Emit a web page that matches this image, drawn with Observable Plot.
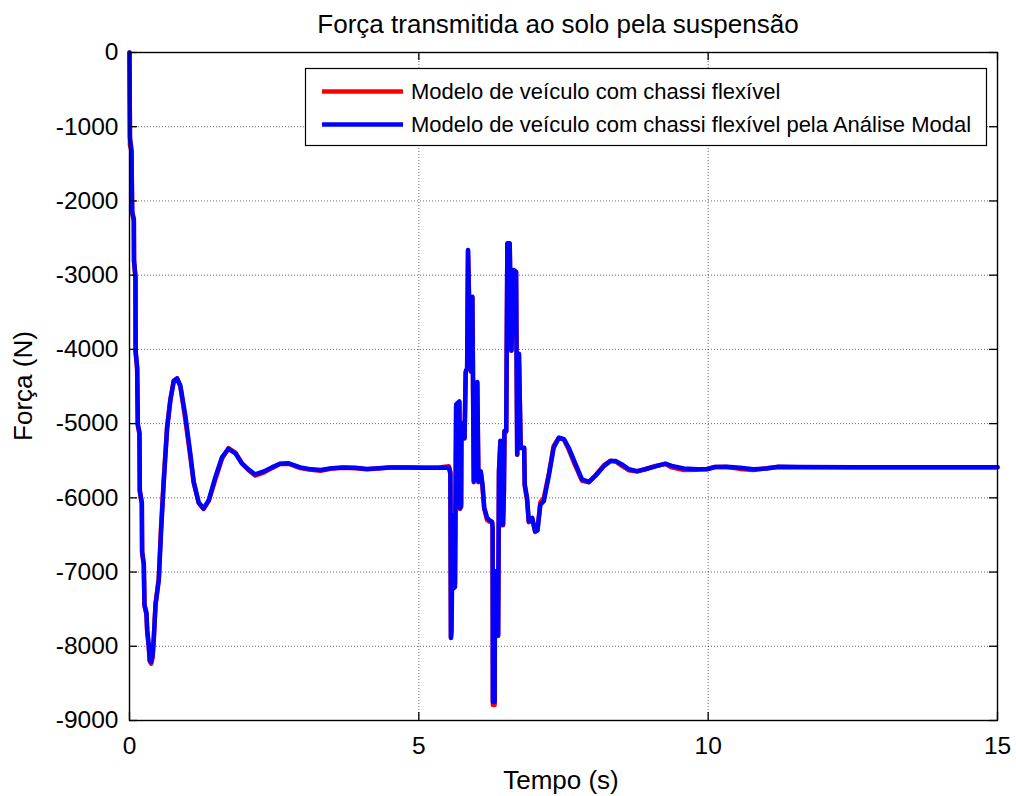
<!DOCTYPE html>
<html>
<head>
<meta charset="utf-8">
<script src="https://cdn.jsdelivr.net/npm/d3@7"></script>
<script src="https://cdn.jsdelivr.net/npm/@observablehq/plot@0.6"></script>
<style>
  body { margin: 0; background: #fff; }
  #wrap { position: relative; width: 1016px; height: 796px; background: #fff; font-family: "Liberation Sans", Arial, Helvetica, sans-serif; }
  #wrap > svg { position: absolute; left: 0; top: 0; }
</style>
</head>
<body>
<div id="wrap"></div>
<script>
const titleText = "Força transmitida ao solo pela suspensão";
const xLabel = "Tempo (s)";
const yLabel = "Força (N)";
const seriesNames = ["Modelo de veículo com chassi flexível", "Modelo de veículo com chassi flexível pela Análise Modal"];
const seriesColors = ["#ff0000", "#0000ff"];
const xTicks = [0, 5, 10, 15];
const yTicks = [0, -1000, -2000, -3000, -4000, -5000, -6000, -7000, -8000, -9000];

const time = [
  0, 0.004, 0.008, 0.034, 0.046, 0.075, 0.078, 0.103, 0.106, 0.132,
  0.144, 0.172, 0.178, 0.213, 0.218, 0.247, 0.259, 0.293, 0.305, 0.333,
  0.350, 0.374, 0.400, 0.420, 0.450, 0.506, 0.546, 0.592, 0.650, 0.707,
  0.764, 0.822, 0.879, 0.966, 1.050, 1.110, 1.195, 1.280, 1.370, 1.480,
  1.600, 1.710, 1.830, 1.940, 2.060, 2.170, 2.320, 2.460, 2.600, 2.750,
  2.950, 3.100, 3.300, 3.500, 3.700, 3.900, 4.100, 4.300, 4.500, 4.800,
  5.100, 5.350, 5.520, 5.545, 5.555, 5.565, 5.585, 5.600, 5.625, 5.645,
  5.700, 5.712, 5.730, 5.737, 5.760, 5.790, 5.810, 5.835, 5.850, 5.870,
  5.895, 5.905, 5.925, 5.950, 5.975, 6.010, 6.030, 6.070, 6.100, 6.130,
  6.180, 6.220, 6.265, 6.275, 6.280, 6.310, 6.316, 6.345, 6.370, 6.385,
  6.410, 6.430, 6.455, 6.470, 6.480, 6.510, 6.530, 6.570, 6.600, 6.640,
  6.680, 6.700, 6.730, 6.760, 6.820, 6.830, 6.870, 6.900, 6.960, 7.010,
  7.050, 7.100, 7.160, 7.250, 7.330, 7.420, 7.510, 7.590, 7.710, 7.820,
  7.940, 8.050, 8.200, 8.310, 8.400, 8.510, 8.630, 8.770, 8.910, 9.090,
  9.260, 9.370, 9.580, 9.810, 9.980, 10.120, 10.320, 10.550, 10.780, 11.010,
  11.210, 11.600, 12.500, 13.500, 15.000
];

const forceFlexible = [
  0, -650, -1250, -1330, -2160, -2270, -2820, -3040, -4040, -4260,
  -5030, -5140, -5920, -6080, -6740, -6910, -7460, -7570, -7790, -8010,
  -8200, -8235, -8150, -7900, -7430, -7080, -6380, -5740, -5040, -4670,
  -4420, -4390, -4500, -4950, -5440, -5800, -6070, -6150, -6040, -5760,
  -5470, -5330, -5390, -5530, -5630, -5700, -5660, -5600, -5545, -5540,
  -5600, -5620, -5635, -5605, -5595, -5600, -5615, -5605, -5590, -5590,
  -5595, -5590, -5575, -5650, -7880, -7500, -6250, -7200, -7150, -4760,
  -4720, -6150, -6100, -5000, -5010, -5180, -4320, -4260, -2670, -3420,
  -4250, -4300, -3300, -5790, -5660, -4450, -5790, -5660, -5850, -6150,
  -6300, -6320, -6330, -6410, -8790, -8790, -7000, -7000, -7860, -5650,
  -5240, -6370, -6370, -5920, -5110, -5110, -2580, -2580, -4020, -2940,
  -2960, -5420, -4070, -5330, -5330, -5840, -6030, -6330, -6290, -6460,
  -6430, -6060, -6000, -5660, -5300, -5190, -5220, -5350, -5580, -5770,
  -5790, -5700, -5560, -5500, -5510, -5570, -5630, -5645, -5615, -5570,
  -5545, -5590, -5625, -5620, -5610, -5585, -5585, -5610, -5625, -5600,
  -5585, -5588, -5588, -5588, -5588
];

const forceModal = [
  0, -600, -1150, -1310, -2140, -2250, -2800, -3020, -4020, -4240,
  -5010, -5120, -5900, -6060, -6720, -6890, -7440, -7550, -7770, -7990,
  -8190, -8215, -8105, -7880, -7440, -7110, -6450, -5785, -5065, -4680,
  -4430, -4390, -4490, -4900, -5400, -5785, -6060, -6145, -6030, -5730,
  -5450, -5340, -5400, -5535, -5620, -5685, -5645, -5590, -5540, -5535,
  -5590, -5610, -5625, -5600, -5590, -5595, -5610, -5600, -5590, -5590,
  -5595, -5595, -5590, -5680, -7890, -7800, -6230, -7220, -7200, -4740,
  -4700, -6140, -6120, -4990, -5000, -5200, -4300, -4250, -2660, -3400,
  -4240, -4300, -3290, -5780, -5650, -4440, -5780, -5640, -5820, -6130,
  -6270, -6300, -6320, -6400, -8750, -8750, -6990, -6990, -7850, -5640,
  -5230, -6360, -6360, -5910, -5100, -5100, -2570, -2570, -4015, -2930,
  -2955, -5415, -4060, -5325, -5325, -5820, -6000, -6315, -6270, -6450,
  -6440, -6090, -6045, -5685, -5325, -5190, -5210, -5325, -5550, -5750,
  -5785, -5705, -5570, -5505, -5505, -5550, -5615, -5640, -5615, -5575,
  -5540, -5570, -5605, -5615, -5615, -5585, -5580, -5595, -5615, -5605,
  -5580, -5585, -5588, -5588, -5588
];

const W = 1016, H = 796;
const mL = 129, mR = 19, mT = 52, mB = 76;
const plotW = W - mL - mR, plotH = H - mT - mB;
const FONT = '"Liberation Sans", Arial, Helvetica, sans-serif';

const dataFlex = time.map((t, i) => ({t, f: forceFlexible[i]}));
const dataModal = time.map((t, i) => ({t, f: forceModal[i]}));

const chart = Plot.plot({
  width: W,
  height: H,
  marginLeft: mL,
  marginRight: mR,
  marginTop: mT,
  marginBottom: mB,
  style: {fontFamily: FONT, fontSize: "24.5px", color: "#000", background: "#fff", overflow: "visible"},
  x: {domain: [0, 15]},
  y: {domain: [-9000, 0]},
  marks: [
    Plot.gridX(xTicks.slice(1, -1), {stroke: "#000", strokeOpacity: 0.6, strokeWidth: 1, strokeDasharray: "1,2"}),
    Plot.gridY(yTicks.slice(1, -1), {stroke: "#000", strokeOpacity: 0.6, strokeWidth: 1, strokeDasharray: "1,2"}),
    Plot.line(dataFlex, {x: "t", y: "f", stroke: seriesColors[0], strokeWidth: 4.5, strokeLinejoin: "round", strokeLinecap: "round"}),
    Plot.line(dataModal, {x: "t", y: "f", stroke: seriesColors[1], strokeWidth: 4.5, strokeLinejoin: "round", strokeLinecap: "round"}),
    Plot.tickY(yTicks, {y: d => d, insetRight: plotW - 8, stroke: "#000", strokeWidth: 1.3}),
    Plot.tickY(yTicks, {y: d => d, insetLeft: plotW - 8, stroke: "#000", strokeWidth: 1.3}),
    Plot.tickX(xTicks, {x: d => d, insetTop: plotH - 8, stroke: "#000", strokeWidth: 1.3}),
    Plot.tickX(xTicks, {x: d => d, insetBottom: plotH - 8, stroke: "#000", strokeWidth: 1.3}),
    Plot.frame({stroke: "#000", strokeWidth: 1.4}),
    Plot.axisY(yTicks, {tickSize: 0, tickPadding: 11, tickFormat: d => String(d), fontSize: 24.5, label: null}),
    Plot.axisX(xTicks, {tickSize: 0, tickPadding: 16, tickFormat: d => String(d), fontSize: 24.5, label: null})
  ]
});

const wrap = document.getElementById("wrap");
wrap.appendChild(chart);

// Overlay: title, axis labels, legend
const ov = d3.select(wrap).append("svg")
  .attr("width", W).attr("height", H)
  .style("pointer-events", "none")
  .style("font-family", FONT);

ov.append("text").attr("x", 558).attr("y", 33).attr("text-anchor", "middle")
  .attr("font-size", 26).attr("fill", "#000").text(titleText);

ov.append("text").attr("x", 561).attr("y", 789).attr("text-anchor", "middle")
  .attr("font-size", 26).attr("fill", "#000").text(xLabel);

ov.append("text").attr("transform", "translate(32,386) rotate(-90)").attr("text-anchor", "middle")
  .attr("font-size", 26).attr("fill", "#000").text(yLabel);

const lg = ov.append("g");
lg.append("rect").attr("x", 305.5).attr("y", 68.5).attr("width", 681).attr("height", 77)
  .attr("fill", "#fff").attr("stroke", "#000").attr("stroke-width", 1.2);
const rowY = [91.5, 124.5];
seriesNames.forEach((name, i) => {
  lg.append("line").attr("x1", 322).attr("x2", 403).attr("y1", rowY[i]).attr("y2", rowY[i])
    .attr("stroke", seriesColors[i]).attr("stroke-width", 4.5);
  lg.append("text").attr("x", 411).attr("y", rowY[i] + 7.8).attr("font-size", 22)
    .attr("fill", "#000").text(name);
});
</script>
</body>
</html>
